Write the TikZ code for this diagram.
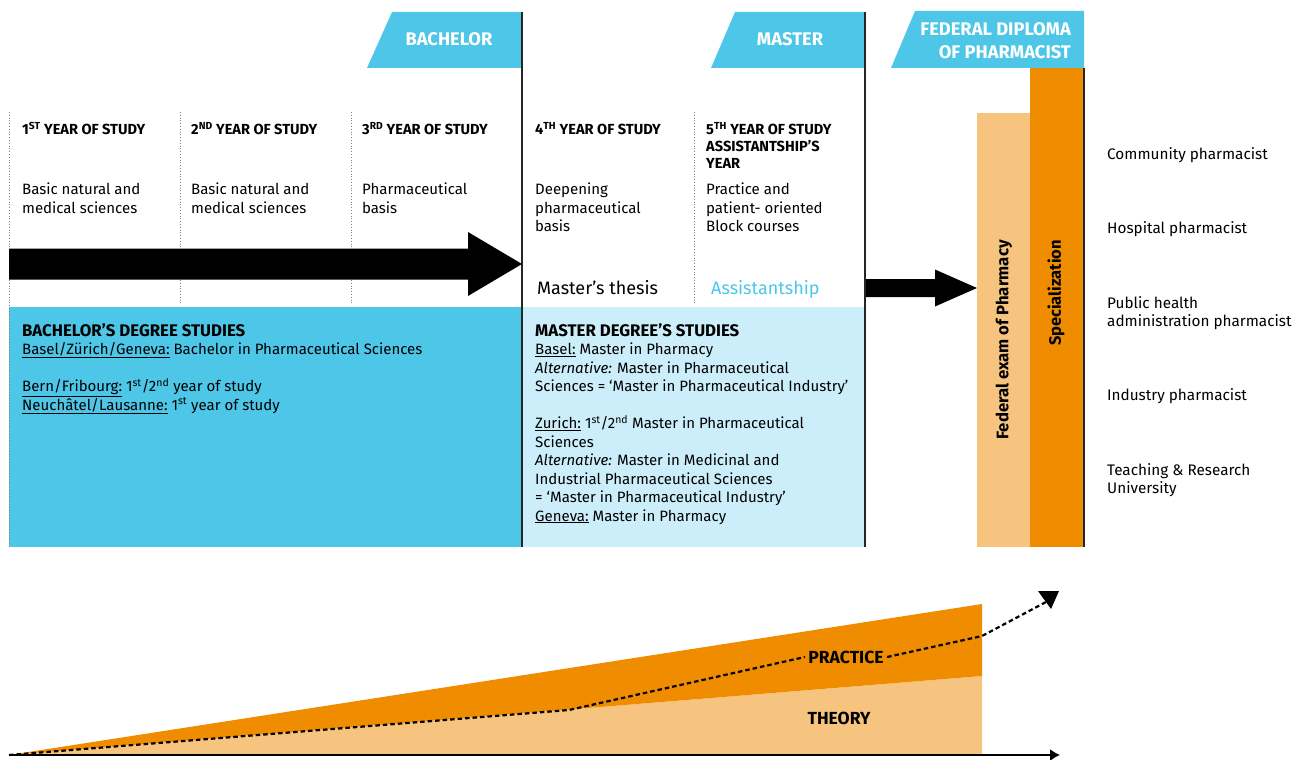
\documentclass[tikz,border=0pt]{standalone}
\usepackage{fontspec}
\setmainfont{Fira Sans}
\usetikzlibrary{arrows.meta,calc,positioning}

\begin{document}
\begin{tikzpicture}[x=1pt,y=-1pt,
    yearhead/.style={anchor=north west,inner sep=0pt,align=left,font=\fontsize{14.6}{17}\selectfont\bfseries},
    desc/.style={anchor=north west,inner sep=0pt,align=left,font=\fontsize{15}{18.5}\selectfont},
    tabtext/.style={inner sep=0pt,text=white,font=\fontsize{18.3}{23}\selectfont\bfseries},
    sep/.style={gray,dotted,line width=0.8pt},
    frame/.style={black!85,line width=1.6pt},
    job/.style={anchor=north west,inner sep=0pt,align=left,font=\fontsize{15.3}{18}\selectfont}]
    % colours
    \definecolor{bachblue}{RGB}{77,198,232}
    \definecolor{mastblue}{RGB}{204,238,251}
    \definecolor{lightorange}{RGB}{247,196,127}
    \definecolor{darkorange}{RGB}{240,140,0}
    \newcommand{\studyhead}[1]{{\fontsize{16.8}{18.5}\selectfont\bfseries #1}}

    \useasboundingbox (0,0) rectangle (1306,760);

    % degree boxes
    \fill[bachblue] (9,307) rectangle (522,547);
    \fill[mastblue] (522,307) rectangle (865,547);

    % tabs
    \fill[bachblue] (392,12) -- (522,12) -- (522,68) -- (367,68) -- cycle;
    \fill[bachblue] (735,12) -- (865,12) -- (865,68) -- (711,68) -- cycle;
    \fill[bachblue] (915,11) -- (1084,11) -- (1084,68) -- (891,68) -- cycle;
    \node[tabtext] (bach) at (449,39) {BACHELOR};
    \node[tabtext] (mast) at (790,39) {MASTER};
    \node[tabtext,align=right,anchor=east] (fed) at (1071,41) {FEDERAL DIPLOMA\\OF PHARMACIST};

    % orange columns
    \fill[lightorange] (977,113) rectangle (1030,547);
    \fill[darkorange] (1030,68) rectangle (1084,547);
    \node[rotate=90,font=\fontsize{16.7}{18}\selectfont\bfseries] (exam) at (1004,340) {Federal exam of Pharmacy};
    \node[rotate=90,font=\fontsize{16.5}{18}\selectfont\bfseries] (spec) at (1056,293) {Specialization};

    % separators
    \draw[sep] (9,112) -- (9,547);
    \foreach \xs in {180,351,694}
        \draw[sep] (\xs,112) -- (\xs,305);
    \draw[frame] (522,12) -- (522,547);
    \draw[frame] (865,12) -- (865,547);
    \draw[frame] (1084,68) -- (1084,547);

    % years
    \node[yearhead] (y1) at (22,122) {1\textsuperscript{ST} YEAR OF STUDY};
    \node[yearhead] (y2) at (191,122) {2\textsuperscript{ND} YEAR OF STUDY};
    \node[yearhead] (y3) at (362,122) {3\textsuperscript{RD} YEAR OF STUDY};
    \node[yearhead] (y4) at (535,122) {4\textsuperscript{TH} YEAR OF STUDY};
    \node[yearhead] (y5) at (706,122) {5\textsuperscript{TH} YEAR OF STUDY\\ASSISTANTSHIP’S\\YEAR};

    \node[desc] (d1) at (22,183) {Basic natural and\\medical sciences};
    \node[desc] (d2) at (191,183) {Basic natural and\\medical sciences};
    \node[desc] (d3) at (362,183) {Pharmaceutical\\basis};
    \node[desc] (d4) at (535,183) {Deepening\\pharmaceutical\\basis};
    \node[desc] (d5) at (706,183) {Practice and\\patient- oriented\\Block courses};

    \node[anchor=north west,inner sep=0pt,font=\fontsize{18}{20}\selectfont] (thesis) at (537,280) {Master’s thesis};
    \node[anchor=north west,inner sep=0pt,font=\fontsize{18}{20}\selectfont,text=bachblue] (assist) at (711,280) {Assistantship};

    % big arrows
    \coordinate (arA) at (9,264);
    \coordinate (arB) at (522,264);
    \fill ($(arA)+(0,-15.5)$) -- ($(arB)+(-54,-15.5)$) -- ($(arB)+(-54,-32)$) -- (arB)
        -- ($(arB)+(-54,32)$) -- ($(arB)+(-54,15.5)$) -- ($(arA)+(0,15.5)$) -- cycle;
    \coordinate (arC) at (866,288);
    \coordinate (arD) at (977,288);
    \fill ($(arC)+(0,-9)$) -- ($(arD)+(-42,-9)$) -- ($(arD)+(-42,-18.5)$) -- (arD)
        -- ($(arD)+(-42,18.5)$) -- ($(arD)+(-42,9)$) -- ($(arC)+(0,9)$) -- cycle;

    % studies
    \node[desc] (bstud) at (22,323) {\studyhead{BACHELOR’S DEGREE STUDIES}\\
        \underline{Basel/Zürich/Geneva:} Bachelor in Pharmaceutical Sciences\\[18.5pt]
        \underline{Bern/Fribourg:} 1\textsuperscript{st}/2\textsuperscript{nd} year of study\\
        \underline{Neuchâtel/Lausanne:} 1\textsuperscript{st} year of study};
    \node[desc] (mstud) at (535,323) {\studyhead{MASTER DEGREE’S STUDIES}\\
        \underline{Basel:} Master in Pharmacy\\
        \textit{Alternative:} Master in Pharmaceutical\\
        Sciences = ‘Master in Pharmaceutical Industry’\\[18.5pt]
        \underline{Zurich:} 1\textsuperscript{st}/2\textsuperscript{nd} Master in Pharmaceutical\\
        Sciences\\
        \textit{Alternative:} Master in Medicinal and\\
        Industrial Pharmaceutical Sciences\\
        = ‘Master in Pharmaceutical Industry’\\
        \underline{Geneva:} Master in Pharmacy};

    % careers
    \node[job] (j1) at (1107,147) {Community pharmacist};
    \node[job] (j2) at (1107,221) {Hospital pharmacist};
    \node[job] (j3) at (1107,296) {Public health\\administration pharmacist};
    \node[job] (j4) at (1107,388) {Industry pharmacist};
    \node[job] (j5) at (1107,463) {Teaching \& Research\\University};

    % theory and practice
    \coordinate (axO) at (9,755);
    \coordinate (axE) at (1060,755);
    \fill[lightorange] (axO) -- (982,676) -- (982,755) -- cycle;
    \fill[darkorange] (axO) -- (982,604) -- (982,676) -- cycle;
    \draw[line width=1.6pt,-{Latex[length=10pt,width=12pt]}] (axO) -- (axE);
    \node[font=\fontsize{17.5}{18}\selectfont\bfseries] (prac) at (846,657) {PRACTICE};
    \node[font=\fontsize{17.5}{18}\selectfont\bfseries] (theo) at (839,718) {THEORY};
    \coordinate (trE) at (1046,602);
    \draw[line width=2.2pt,dash pattern=on 4.5pt off 3pt] (axO) -- (569,710) -- (prac.west);
    \draw[line width=2.2pt,dash pattern=on 4.5pt off 3pt] (prac.east) -- (982,636) -- (trE);
    \fill (1038,591) -- (1059,591) -- (1051,609) -- cycle;
\end{tikzpicture}
\end{document}
